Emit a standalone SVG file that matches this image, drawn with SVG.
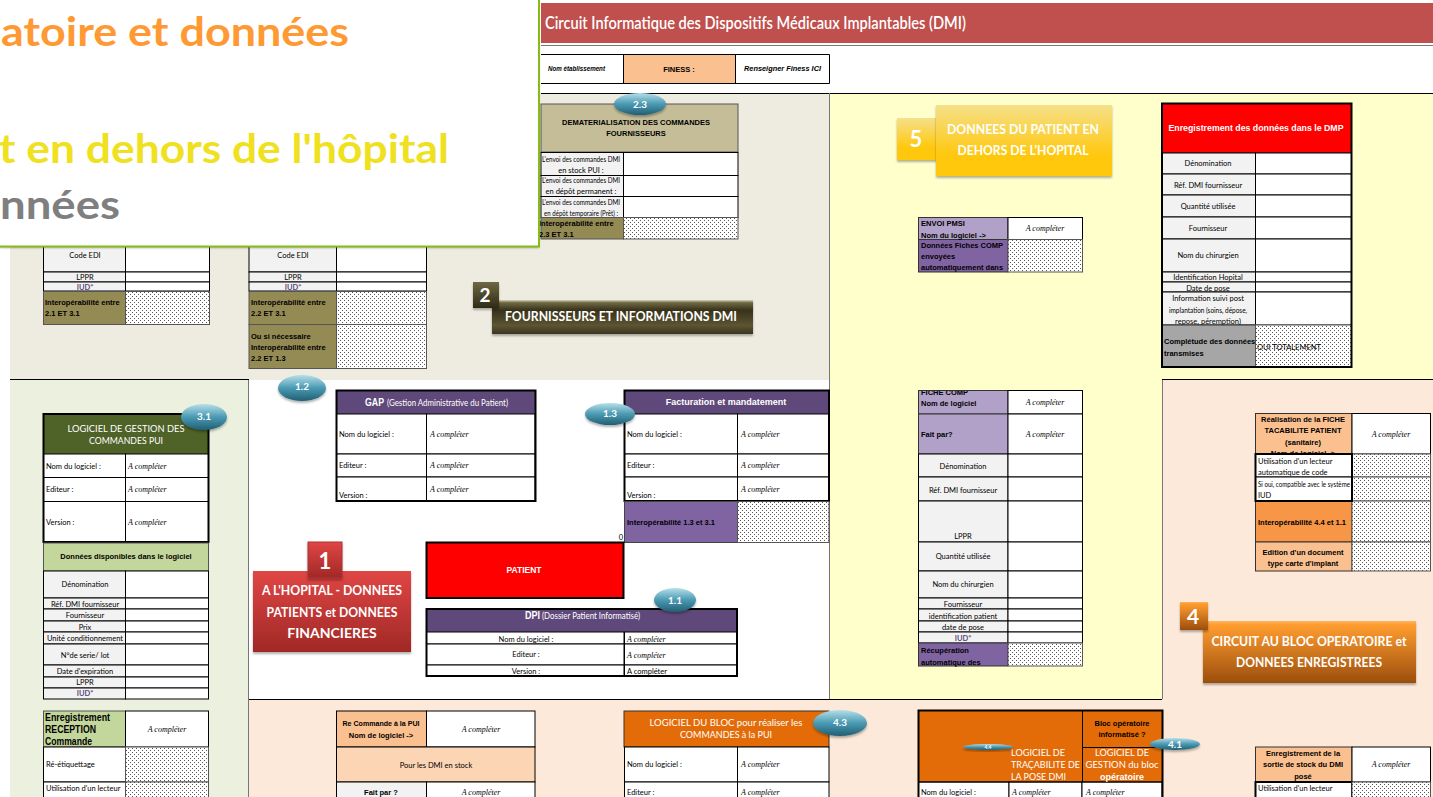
<svg xmlns="http://www.w3.org/2000/svg" width="1433" height="797" viewBox="0 0 1433 797">
<style>
text{font-family:Lato,"Liberation Sans",Arial,sans-serif;font-size:7.500px;fill:#000}
.m{text-anchor:middle}
.b{font-family:"Liberation Sans",Arial,sans-serif;font-weight:bold}
.i{font-style:italic;font-family:"Liberation Serif","Liberation Sans",serif;font-size:8px}
.w{fill:#fff}
.p{fill:#5F497A;font-weight:bold}
.h10{font-size:10px}
.ban{font-family:Lato,"Liberation Sans",sans-serif;font-weight:bold;fill:#fff;text-anchor:middle;font-size:14px}
.bad{font-family:Lato,"Liberation Sans",sans-serif;font-size:10px;font-weight:bold;fill:#fff;text-anchor:middle}
.big{font-family:Lato,"Liberation Sans",sans-serif;font-weight:bold;font-size:41px}
rect.c{stroke:#000;stroke-width:1;fill:#fff}
rect.l{stroke:#000;stroke-width:1;fill:#F2F2F2}
rect.d{stroke:#555;stroke-width:1;fill:url(#dots)}
rect.o{stroke:#000;stroke-width:2;fill:none}
ellipse{fill:url(#gb);filter:url(#sh)}
</style>
<defs>
<pattern id="dots" width="4" height="4" patternUnits="userSpaceOnUse"><rect width="4" height="4" fill="#fff"/><rect width="1" height="1" fill="#555"/><rect x="2" y="2" width="1" height="1" fill="#555"/></pattern>
<linearGradient id="gb" x1="0" y1="0" x2="0" y2="1"><stop offset="0" stop-color="#b7dfe9"/><stop offset=".5" stop-color="#4a9ab3"/><stop offset="1" stop-color="#215f74"/></linearGradient>
<linearGradient id="gr" x1="0" y1="0" x2="0" y2="1"><stop offset="0" stop-color="#e04644"/><stop offset="1" stop-color="#a02826"/></linearGradient>
<linearGradient id="go" x1="0" y1="0" x2="0" y2="1"><stop offset="0" stop-color="#ffb45e"/><stop offset=".06" stop-color="#ff9d30"/><stop offset="1" stop-color="#9c4e0c"/></linearGradient>
<linearGradient id="gy" x1="0" y1="0" x2="0" y2="1"><stop offset="0" stop-color="#f5e08a"/><stop offset=".7" stop-color="#ffc80f"/><stop offset="1" stop-color="#ffc80f"/></linearGradient>
<linearGradient id="gk" x1="0" y1="0" x2="0" y2="1"><stop offset="0" stop-color="#d8d4b8"/><stop offset=".08" stop-color="#6f6843"/><stop offset=".3" stop-color="#37321b"/><stop offset=".75" stop-color="#5c5433"/><stop offset="1" stop-color="#3a3520"/></linearGradient>
<linearGradient id="gk2" x1="0" y1="0" x2="0" y2="1"><stop offset="0" stop-color="#6f6843"/><stop offset="1" stop-color="#2e2a16"/></linearGradient>
<filter id="sh" x="-20%" y="-20%" width="140%" height="150%"><feDropShadow dx="0" dy="2" stdDeviation="1.2" flood-color="#000" flood-opacity=".3"/></filter>
<clipPath id="c1"><rect x="919" y="391" width="89" height="23"/></clipPath>
<clipPath id="c2"><rect x="1256" y="414" width="96" height="40"/></clipPath>
</defs>

<g id="panels">
<rect x="0" width="1433" height="797" fill="#fff"/>
<rect x="10" y="93" width="820" height="287" fill="#EEECE1"/>
<rect x="830" y="93" width="603" height="287" fill="#FFFFCC"/>
<rect x="830" y="380" width="332" height="319" fill="#FFFFCC"/>
<rect x="10" y="380" width="239" height="417" fill="#EBF1DE"/>
<rect x="249" y="699" width="913" height="98" fill="#FDE9D9"/>
<rect x="1162" y="380" width="271" height="417" fill="#FDE9D9"/>
<path d="M541 93.500H1433M10 379.500H249M1162 379.500H1433M249 699.500H1162" stroke="#000" fill="none"/>
<path d="M829.500 93V699M1162.500 380V699M248.500 380V797" stroke="#777" fill="none"/>
</g>

<g id="title">
<rect x="541" y="3" width="892" height="40" fill="#C0504D"/>
<path d="M541 45.500H1433" stroke="#777"/>
<text x="545" y="29" style="font-size:17px;font-weight:600;fill:#fff" textLength="421" lengthAdjust="spacingAndGlyphs">Circuit Informatique des Dispositifs Médicaux Implantables (DMI)</text>
<rect x="541" y="54" width="82" height="29" fill="#fff"/>
<rect x="623" y="54" width="112" height="29" fill="#FAC090"/>
<rect x="735" y="54" width="94" height="29" fill="#fff"/>
<path d="M541 54.500H829.500V83.500H541M623.500 54V83M735.500 54V83" stroke="#000" fill="none"/>
<text x="548" y="71" class="b" style="font-style:italic" textLength="57" lengthAdjust="spacingAndGlyphs">Nom établissement</text>
<text x="679" y="72" class="b m">FINESS :</text>
<text x="744" y="71" class="b" style="font-style:italic" textLength="77" lengthAdjust="spacingAndGlyphs">Renseigner Finess ICI</text>
</g>

<g id="table-2-1">
<rect class="l" x="43.500" y="246" width="82" height="26"/><rect class="c" x="125.500" y="246" width="84" height="26"/>
<rect class="l" x="43.500" y="272" width="82" height="10"/><rect class="c" x="125.500" y="272" width="84" height="10"/>
<rect class="l" x="43.500" y="282" width="82" height="9"/><rect class="c" x="125.500" y="282" width="84" height="9"/>
<rect x="43.500" y="291.500" width="82" height="33" fill="#948A54" stroke="#555"/><rect class="d" x="125.500" y="291.500" width="84" height="33"/>
<text x="85" y="258" class="m">Code EDI</text><text x="85" y="280" class="m">LPPR</text><text x="85" y="290" class="m p">IUD*</text>
<text x="45" y="305" class="b">Interopérabilité entre</text><text x="45" y="316" class="b">2.1 ET 3.1</text>
</g>

<g id="table-2-2">
<rect class="l" x="249" y="246" width="87.500" height="26"/><rect class="c" x="336.500" y="246" width="90" height="26"/>
<rect class="l" x="249" y="272" width="87.500" height="10"/><rect class="c" x="336.500" y="272" width="90" height="10"/>
<rect class="l" x="249" y="282" width="87.500" height="9"/><rect class="c" x="336.500" y="282" width="90" height="9"/>
<rect x="249" y="291.500" width="87.500" height="33" fill="#948A54" stroke="#555"/><rect class="d" x="336.500" y="291.500" width="90" height="33"/>
<rect x="249" y="324.500" width="87.500" height="44" fill="#948A54" stroke="#555"/><rect class="d" x="336.500" y="324.500" width="90" height="44"/>
<text x="293" y="258" class="m">Code EDI</text><text x="293" y="280" class="m">LPPR</text><text x="293" y="290" class="m p">IUD*</text>
<text x="251" y="305" class="b">Interopérabilité entre</text><text x="251" y="316" class="b">2.2 ET 3.1</text>
<text x="251" y="339" class="b">Ou si nécessaire</text><text x="251" y="350" class="b">Interopérabilité entre</text><text x="251" y="361" class="b">2.2 ET 1.3</text>
</g>

<g id="table-2-3">
<rect x="541" y="104" width="197" height="48" fill="#C4BD97" stroke="#555"/>
<rect class="l" x="541" y="152.500" width="82.500" height="23"/><rect class="c" x="623.500" y="152.500" width="114.500" height="23"/>
<rect class="l" x="541" y="175.500" width="82.500" height="21"/><rect class="c" x="623.500" y="175.500" width="114.500" height="21"/>
<rect class="l" x="541" y="196.500" width="82.500" height="21"/><rect class="c" x="623.500" y="196.500" width="114.500" height="21"/>
<rect x="541" y="217.500" width="82.500" height="21.500" fill="#948A54" stroke="#555"/><rect class="d" x="623.500" y="217.500" width="114.500" height="21.500"/>
<text x="636" y="125" class="b m">DEMATERIALISATION DES COMMANDES</text><text x="636" y="136" class="b m">FOURNISSEURS</text>
<text x="581" y="162" class="m" textLength="78" lengthAdjust="spacingAndGlyphs">L'envoi des commandes DMI</text><text x="581" y="173" class="m">en stock PUI :</text>
<text x="581" y="183" class="m" textLength="78" lengthAdjust="spacingAndGlyphs">L'envoi des commandes DMI</text><text x="581" y="194" class="m">en dépôt permanent :</text>
<text x="581" y="205" class="m" textLength="78" lengthAdjust="spacingAndGlyphs">L'envoi des commandes DMI</text><text x="581" y="216" class="m" textLength="74" lengthAdjust="spacingAndGlyphs">en dépôt temporaire (Prêt) :</text>
<text x="539" y="226" class="b">Interopérabilité entre</text><text x="539" y="237" class="b">2.3 ET 3.1</text>
</g>

<g id="section-2">
<rect x="492" y="300" width="261" height="34" fill="url(#gk)" filter="url(#sh)"/>
<rect x="473" y="282" width="26" height="26" fill="url(#gk2)" filter="url(#sh)"/>
<text x="485" y="302" class="ban" style="font-size:19px">2</text>
<text x="621" y="321" class="ban" textLength="232" lengthAdjust="spacingAndGlyphs">FOURNISSEURS ET INFORMATIONS DMI</text>
</g>

<g id="table-3-1">
<rect x="43.500" y="414" width="165" height="40" fill="#4F6228"/>
<rect class="c" x="43.500" y="454" width="82" height="23.500"/><rect class="c" x="125.500" y="454" width="83" height="23.500"/>
<rect class="c" x="43.500" y="477.500" width="82" height="24"/><rect class="c" x="125.500" y="477.500" width="83" height="24"/>
<rect class="c" x="43.500" y="501.500" width="82" height="41"/><rect class="c" x="125.500" y="501.500" width="83" height="41"/>
<rect class="o" x="43.500" y="414" width="165" height="128"/>
<rect x="43.500" y="543" width="165" height="28" fill="#C3D69B" stroke="#555"/>
<rect class="l" x="43.500" y="571" width="82" height="27"/><rect class="c" x="125.500" y="571" width="83" height="27"/>
<rect class="l" x="43.500" y="598" width="82" height="11"/><rect class="c" x="125.500" y="598" width="83" height="11"/>
<rect class="l" x="43.500" y="609" width="82" height="12"/><rect class="c" x="125.500" y="609" width="83" height="12"/>
<rect class="l" x="43.500" y="621" width="82" height="11"/><rect class="c" x="125.500" y="621" width="83" height="11"/>
<rect class="l" x="43.500" y="632" width="82" height="12"/><rect class="c" x="125.500" y="632" width="83" height="12"/>
<rect class="l" x="43.500" y="644" width="82" height="21"/><rect class="c" x="125.500" y="644" width="83" height="21"/>
<rect class="l" x="43.500" y="665" width="82" height="12"/><rect class="c" x="125.500" y="665" width="83" height="12"/>
<rect class="l" x="43.500" y="677" width="82" height="11"/><rect class="c" x="125.500" y="677" width="83" height="11"/>
<rect class="l" x="43.500" y="688" width="82" height="11"/><rect class="c" x="125.500" y="688" width="83" height="11"/>
<text x="126" y="432" class="m w h10" textLength="117" lengthAdjust="spacingAndGlyphs">LOGICIEL DE GESTION DES</text><text x="126" y="444" class="m w h10" textLength="74" lengthAdjust="spacingAndGlyphs">COMMANDES PUI</text>
<text x="46" y="469">Nom du logiciel :</text><text x="128" y="469" class="i">A compléter</text>
<text x="46" y="492">Editeur :</text><text x="128" y="492" class="i">A compléter</text>
<text x="46" y="525">Version :</text><text x="128" y="525" class="i">A compléter</text>
<text x="126" y="559" class="b m">Données disponibles dans le logiciel</text>
<text x="85" y="587" class="m">Dénomination</text><text x="85" y="607" class="m">Réf. DMI fournisseur</text><text x="85" y="618" class="m">Fournisseur</text><text x="85" y="630" class="m">Prix</text><text x="85" y="641" class="m">Unité conditionnement</text><text x="85" y="658" class="m">N°de serie/ lot</text><text x="85" y="674" class="m">Date d'expiration</text><text x="85" y="685" class="m">LPPR</text><text x="85" y="696" class="m p">IUD*</text>
</g>

<g id="table-reception">
<rect x="43.500" y="711" width="82" height="36" fill="#C3D69B" stroke="#555"/><rect class="c" x="125.500" y="711" width="83" height="36"/>
<rect class="c" x="43.500" y="747" width="82" height="35"/><rect class="d" x="125.500" y="747" width="83" height="35"/>
<rect class="c" x="43.500" y="782" width="82" height="20"/><rect class="d" x="125.500" y="782" width="83" height="20"/>
<text x="45" y="721" class="b" style="font-size:10px" textLength="65" lengthAdjust="spacingAndGlyphs">Enregistrement</text><text x="45" y="733" class="b" style="font-size:10px" textLength="51" lengthAdjust="spacingAndGlyphs">RECEPTION</text><text x="45" y="745" class="b" style="font-size:10px" textLength="47" lengthAdjust="spacingAndGlyphs">Commande</text>
<text x="167" y="732" class="i m">A compléter</text><text x="46" y="767">Ré-étiquettage</text><text x="46" y="791">Utilisation d'un lecteur</text>
</g>

<g id="section-1">
<rect x="253" y="571" width="158" height="81" fill="url(#gr)" filter="url(#sh)"/>
<rect x="308" y="542" width="34" height="36" fill="url(#gr)" stroke="#a33" filter="url(#sh)"/>
<text x="325" y="569" class="ban" style="font-size:22px">1</text>
<text x="332" y="595" class="ban" textLength="140" lengthAdjust="spacingAndGlyphs">A L'HOPITAL - DONNEES</text>
<text x="332" y="617" class="ban" textLength="131" lengthAdjust="spacingAndGlyphs">PATIENTS et DONNEES</text>
<text x="332" y="638" class="ban">FINANCIERES</text>
</g>

<g id="table-gap">
<rect x="336" y="390" width="199" height="24" fill="#5F497A"/>
<rect class="c" x="336.500" y="414" width="90" height="40"/><rect class="c" x="426.500" y="414" width="108.500" height="40"/>
<rect class="c" x="336.500" y="454" width="90" height="23"/><rect class="c" x="426.500" y="454" width="108.500" height="23"/>
<rect class="c" x="336.500" y="477" width="90" height="24"/><rect class="c" x="426.500" y="477" width="108.500" height="24"/>
<rect class="o" x="336.500" y="390.500" width="199" height="110.500"/>
<text x="365" y="406" class="w b" style="font-size:10.500px" textLength="19" lengthAdjust="spacingAndGlyphs">GAP</text>
<text x="387" y="406" class="w" style="font-size:9px" textLength="121" lengthAdjust="spacingAndGlyphs">(Gestion Administrative du Patient)</text>
<text x="339" y="437">Nom du logiciel :</text><text x="430" y="437" class="i">A compléter</text>
<text x="339" y="468">Editeur :</text><text x="430" y="468" class="i">A compléter</text>
<text x="339" y="498">Version :</text><text x="430" y="492" class="i">A compléter</text>
</g>

<g id="table-facturation">
<rect x="624" y="390" width="205" height="24" fill="#5F497A"/>
<rect class="c" x="624.500" y="414" width="113" height="40"/><rect class="c" x="737.500" y="414" width="91.500" height="40"/>
<rect class="c" x="624.500" y="454" width="113" height="23"/><rect class="c" x="737.500" y="454" width="91.500" height="23"/>
<rect class="c" x="624.500" y="477" width="113" height="24"/><rect class="c" x="737.500" y="477" width="91.500" height="24"/>
<rect class="o" x="624.500" y="390.500" width="204.500" height="110.500"/>
<rect x="624.500" y="501.500" width="113" height="41" fill="#8064A2" stroke="#444"/><rect class="d" x="737.500" y="501.500" width="91.500" height="41"/>
<text x="726" y="405" class="m w b" style="font-size:9px">Facturation et mandatement</text>
<text x="627" y="437">Nom du logiciel :</text><text x="741" y="437" class="i">A compléter</text>
<text x="627" y="468">Editeur :</text><text x="741" y="468" class="i">A compléter</text>
<text x="627" y="498">Version :</text><text x="741" y="492" class="i">A compléter</text>
<text x="627" y="525" class="b">Interopérabilité 1.3 et 3.1</text>
<text x="623" y="540" style="text-anchor:end">0</text>
</g>

<g id="patient">
<rect class="o" x="426.500" y="542.500" width="197" height="55.500" style="fill:#FF0000"/>
<text x="524" y="573" class="m w b" style="font-size:8.500px">PATIENT</text>
</g>

<g id="table-dpi">
<rect x="426" y="609" width="311" height="23" fill="#5F497A"/>
<rect class="c" x="426.500" y="632" width="197.500" height="12"/><rect class="c" x="624.500" y="632" width="112.500" height="12"/>
<rect class="c" x="426.500" y="644" width="197.500" height="21"/><rect class="c" x="624.500" y="644" width="112.500" height="21"/>
<rect class="c" x="426.500" y="665" width="197.500" height="11"/><rect class="c" x="624.500" y="665" width="112.500" height="11"/>
<rect class="o" x="426.500" y="609" width="310.500" height="67"/>
<text x="525" y="619" class="w b" style="font-size:10.500px" textLength="15" lengthAdjust="spacingAndGlyphs">DPI</text>
<text x="542" y="619" class="w" style="font-size:9px" textLength="98" lengthAdjust="spacingAndGlyphs">(Dossier Patient Informatisé)</text>
<text x="526" y="642" class="m">Nom du logiciel :</text><text x="627" y="642" class="i">A compléter</text>
<text x="526" y="657" class="m">Editeur :</text><text x="627" y="658" class="i">A compléter</text>
<text x="526" y="674" class="m">Version :</text><text x="627" y="674">A compléter</text>
</g>

<g id="table-recommande">
<rect x="336.500" y="711" width="90" height="36" fill="#FAC090" stroke="#000"/><rect class="c" x="426.500" y="711" width="108.500" height="36"/>
<rect x="336.500" y="747" width="198.500" height="35" fill="#FCD5B4" stroke="#000"/>
<rect class="l" x="336.500" y="782" width="90" height="20"/><rect class="c" x="426.500" y="782" width="108.500" height="20"/>
<text x="381" y="726" class="b m" textLength="77" lengthAdjust="spacingAndGlyphs">Re Commande à la PUI</text><text x="381" y="738" class="b m">Nom de logiciel -&gt;</text>
<text x="481" y="732" class="i m">A compléter</text>
<text x="436" y="768" class="m">Pour les DMI en stock</text>
<text x="381" y="795" class="b m">Fait par ?</text><text x="481" y="795" class="i m">A compléter</text>
</g>

<g id="table-4-3">
<rect x="624" y="711" width="205" height="36" fill="#E36C09" stroke="#333"/>
<rect class="c" x="624.500" y="747" width="113" height="35"/><rect class="c" x="737.500" y="747" width="91.500" height="35"/>
<rect class="c" x="624.500" y="782" width="113" height="20"/><rect class="c" x="737.500" y="782" width="91.500" height="20"/>
<text x="726" y="726" class="m w h10" textLength="153" lengthAdjust="spacingAndGlyphs">LOGICIEL DU BLOC pour réaliser les</text><text x="726" y="738" class="m w h10" textLength="92" lengthAdjust="spacingAndGlyphs">COMMANDES à la PUI</text>
<text x="627" y="767">Nom du logiciel :</text><text x="741" y="767" class="i">A compléter</text>
<text x="627" y="795">Editeur :</text><text x="741" y="795" class="i">A compléter</text>
</g>

<g id="table-4-tracabilite">
<rect x="918" y="710" width="164" height="37" fill="#E36C09"/>
<rect x="1082" y="710" width="80" height="37" fill="#E36C09"/>
<rect x="918" y="747" width="244" height="35" fill="#E36C09"/>
<rect class="c" x="918.500" y="782" width="90.500" height="20"/><rect class="c" x="1009" y="782" width="73" height="20"/><rect class="c" x="1082" y="782" width="80" height="20"/>
<path d="M1082 747.500H1162M1082.500 710V782M918 782H1162" stroke="#000" fill="none"/>
<rect class="o" x="918.500" y="710.500" width="244" height="90"/>
<text x="1122" y="726" class="b m">Bloc opératoire</text><text x="1122" y="737" class="b m">informatisé ?</text>
<text x="1011" y="756" class="w h10" textLength="54" lengthAdjust="spacingAndGlyphs">LOGICIEL DE</text><text x="1011" y="768" class="w h10" textLength="69" lengthAdjust="spacingAndGlyphs">TRAÇABILITE DE</text><text x="1011" y="780" class="w h10" textLength="55" lengthAdjust="spacingAndGlyphs">LA POSE DMI</text>
<text x="1122" y="756" class="m w h10" textLength="54" lengthAdjust="spacingAndGlyphs">LOGICIEL DE</text><text x="1122" y="768" class="m w h10" textLength="73" lengthAdjust="spacingAndGlyphs">GESTION du bloc</text><text x="1122" y="780" class="m w b" style="font-size:9px">opératoire</text>
<text x="921" y="795">Nom du logiciel :</text><text x="1012" y="795" class="i">A compléter</text><text x="1086" y="795" class="i">A compléter</text>
</g>

<g id="table-pmsi">
<rect x="918.500" y="217.500" width="89.500" height="22" fill="#B1A0C7" stroke="#333"/><rect class="c" x="1008" y="217.500" width="74.500" height="22"/>
<rect x="918.500" y="239.500" width="89.500" height="32.500" fill="#8064A2" stroke="#333"/><rect class="d" x="1008" y="239.500" width="74.500" height="32.500"/>
<text x="921" y="226" class="b">ENVOI PMSI</text><text x="921" y="238" class="b">Nom du logiciel -&gt;</text>
<text x="1045" y="231" class="i m">A compléter</text>
<text x="921" y="248" class="b">Données Fiches COMP</text><text x="921" y="259" class="b">envoyées</text><text x="921" y="270" class="b">automatiquement dans</text>
</g>

<g id="section-5">
<rect x="897" y="118" width="40" height="42" fill="url(#gy)" filter="url(#sh)"/>
<rect x="936" y="105" width="176" height="71" fill="url(#gy)" filter="url(#sh)"/>
<text x="916" y="147" class="ban" style="font-size:22px">5</text>
<text x="1023" y="134" class="ban" textLength="152" lengthAdjust="spacingAndGlyphs">DONNEES DU PATIENT EN</text>
<text x="1023" y="155" class="ban" textLength="131" lengthAdjust="spacingAndGlyphs">DEHORS DE L'HOPITAL</text>
</g>

<g id="table-dmp">
<rect x="1162" y="103.500" width="189.500" height="49.500" fill="#FF0000" stroke="#333"/>
<rect class="l" x="1162" y="153" width="93.500" height="21"/><rect class="c" x="1255.500" y="153" width="96" height="21"/>
<rect class="l" x="1162" y="174" width="93.500" height="21"/><rect class="c" x="1255.500" y="174" width="96" height="21"/>
<rect class="l" x="1162" y="195" width="93.500" height="22"/><rect class="c" x="1255.500" y="195" width="96" height="22"/>
<rect class="l" x="1162" y="217" width="93.500" height="22"/><rect class="c" x="1255.500" y="217" width="96" height="22"/>
<rect class="l" x="1162" y="239" width="93.500" height="33"/><rect class="c" x="1255.500" y="239" width="96" height="33"/>
<rect class="l" x="1162" y="272" width="93.500" height="10"/><rect class="c" x="1255.500" y="272" width="96" height="10"/>
<rect class="l" x="1162" y="282" width="93.500" height="10"/><rect class="c" x="1255.500" y="282" width="96" height="10"/>
<rect class="l" x="1162" y="292" width="93.500" height="33"/><rect class="c" x="1255.500" y="292" width="96" height="33"/>
<rect x="1162" y="325" width="93.500" height="42" fill="#A6A6A6" stroke="#333"/><rect class="d" x="1255.500" y="325" width="96" height="42"/>
<rect class="o" x="1162" y="103.500" width="189.500" height="263.500"/>
<text x="1256" y="131" class="m w b" style="font-size:9px" textLength="175" lengthAdjust="spacingAndGlyphs">Enregistrement des données dans le DMP</text>
<text x="1208" y="166" class="m">Dénomination</text><text x="1208" y="188" class="m">Réf. DMI fournisseur</text><text x="1208" y="209" class="m">Quantité utilisée</text><text x="1208" y="231" class="m">Fournisseur</text><text x="1208" y="258" class="m">Nom du chirurgien</text><text x="1208" y="280" class="m">Identification Hopital</text><text x="1208" y="291" class="m">Date de pose</text>
<text x="1208" y="301" class="m">Information suivi post</text><text x="1208" y="313" class="m" textLength="78" lengthAdjust="spacingAndGlyphs">implantation (soins, dépose,</text><text x="1208" y="324" class="m">repose, péremption)</text>
<text x="1164" y="344" class="b">Complétude des données</text><text x="1164" y="356" class="b">transmises</text>
<text x="1257" y="350">OUI TOTALEMENT</text>
</g>

<g id="table-fiche-comp">
<rect x="918.500" y="390.500" width="89.500" height="23.500" fill="#B1A0C7" stroke="#333"/><rect class="c" x="1008" y="390.500" width="74.500" height="23.500"/>
<rect x="918.500" y="414" width="89.500" height="40" fill="#B1A0C7" stroke="#333"/><rect class="c" x="1008" y="414" width="74.500" height="40"/>
<rect class="l" x="918.500" y="454" width="89.500" height="23"/><rect class="c" x="1008" y="454" width="74.500" height="23"/>
<rect class="l" x="918.500" y="477" width="89.500" height="24"/><rect class="c" x="1008" y="477" width="74.500" height="24"/>
<rect class="l" x="918.500" y="501" width="89.500" height="41"/><rect class="c" x="1008" y="501" width="74.500" height="41"/>
<rect class="l" x="918.500" y="542" width="89.500" height="29"/><rect class="c" x="1008" y="542" width="74.500" height="29"/>
<rect class="l" x="918.500" y="571" width="89.500" height="27"/><rect class="c" x="1008" y="571" width="74.500" height="27"/>
<rect class="l" x="918.500" y="598" width="89.500" height="11"/><rect class="c" x="1008" y="598" width="74.500" height="11"/>
<rect class="l" x="918.500" y="609" width="89.500" height="12"/><rect class="c" x="1008" y="609" width="74.500" height="12"/>
<rect class="l" x="918.500" y="621" width="89.500" height="11"/><rect class="c" x="1008" y="621" width="74.500" height="11"/>
<rect class="l" x="918.500" y="632" width="89.500" height="11"/><rect class="c" x="1008" y="632" width="74.500" height="11"/>
<rect x="918.500" y="643" width="89.500" height="23" fill="#8064A2" stroke="#333"/><rect class="d" x="1008" y="643" width="74.500" height="23"/>
<g clip-path="url(#c1)"><text x="921" y="395" class="b">FICHE COMP</text><text x="921" y="406" class="b">Nom de logiciel</text></g>
<text x="1045" y="405" class="i m">A compléter</text>
<text x="921" y="437" class="b">Fait par?</text><text x="1045" y="437" class="i m">A compléter</text>
<text x="963" y="469" class="m">Dénomination</text><text x="963" y="493" class="m">Réf. DMI fournisseur</text><text x="963" y="539" class="m">LPPR</text><text x="963" y="559" class="m">Quantité utilisée</text><text x="963" y="587" class="m">Nom du chirurgien</text><text x="963" y="607" class="m">Fournisseur</text><text x="963" y="619" class="m">identification patient</text><text x="963" y="630" class="m">date de pose</text><text x="963" y="641" class="m p">IUD*</text>
<text x="921" y="653" class="b">Récupération</text><text x="921" y="665" class="b">automatique des</text>
</g>

<g id="section-4">
<rect x="1203" y="621" width="213" height="62" fill="url(#go)" filter="url(#sh)"/>
<rect x="1180" y="602" width="28" height="28" fill="url(#go)" filter="url(#sh)"/>
<text x="1193" y="624" class="ban" style="font-size:21px">4</text>
<text x="1309" y="646" class="ban" textLength="195" lengthAdjust="spacingAndGlyphs">CIRCUIT AU BLOC OPERATOIRE et</text>
<text x="1309" y="667" class="ban" textLength="146" lengthAdjust="spacingAndGlyphs">DONNEES ENREGISTREES</text>
</g>

<g id="table-fiche-tracabilite">
<rect x="1255.500" y="413.500" width="96.500" height="40.500" fill="#FAC090" stroke="#333"/><rect class="c" x="1352" y="413.500" width="78.500" height="40.500"/>
<rect class="c" x="1255.500" y="454" width="96.500" height="23"/><rect class="d" x="1352" y="454" width="78.500" height="23"/>
<rect class="c" x="1255.500" y="477" width="96.500" height="24"/><rect class="d" x="1352" y="477" width="78.500" height="24"/>
<rect x="1255.500" y="501" width="96.500" height="41" fill="#F79646" stroke="#333"/><rect class="d" x="1352" y="501" width="78.500" height="41"/>
<rect x="1255.500" y="542" width="96.500" height="29" fill="#FAC090" stroke="#333"/><rect class="d" x="1352" y="542" width="78.500" height="29"/>
<rect class="o" x="1255.500" y="454" width="96.500" height="47"/>
<g clip-path="url(#c2)"><text x="1303" y="422" class="b m">Réalisation de la FICHE</text><text x="1303" y="433" class="b m">TACABILITE PATIENT</text><text x="1303" y="445" class="b m">(sanitaire)</text><text x="1303" y="456" class="b m">Nom de logiciel -&gt;</text></g>
<text x="1391" y="437" class="i m">A compléter</text>
<text x="1258" y="464">Utilisation d'un lecteur</text><text x="1258" y="475">automatique de code</text>
<text x="1258" y="487" textLength="92" lengthAdjust="spacingAndGlyphs">Si oui, compatible avec le système</text><text x="1258" y="498">IUD</text>
<text x="1258" y="525" class="b">Interopérabilité 4.4 et 1.1</text>
<text x="1303" y="555" class="b m">Edition d'un document</text><text x="1303" y="566" class="b m">type carte d'implant</text>
</g>

<g id="table-sortie-stock">
<rect x="1255.500" y="747" width="96.500" height="35" fill="#FAC090" stroke="#333"/><rect class="c" x="1352" y="747" width="78.500" height="35"/>
<rect class="c" x="1255.500" y="782" width="96.500" height="20" style="stroke-width:2"/><rect class="d" x="1352" y="782" width="78.500" height="20"/>
<text x="1303" y="756" class="b m">Enregistrement de la</text><text x="1303" y="767" class="b m">sortie de stock du DMI</text><text x="1303" y="779" class="b m">posé</text>
<text x="1391" y="767" class="i m">A compléter</text>
<text x="1258" y="791">Utilisation d'un lecteur</text>
</g>

<g id="badges">
<g id="badge-2-3"><ellipse cx="640" cy="104" rx="26" ry="11"/><text x="640" y="108" class="bad">2.3</text></g>
<g id="badge-1-2"><ellipse cx="302" cy="388" rx="24" ry="13"/><text x="302" y="390" class="bad">1.2</text></g>
<g id="badge-3-1"><ellipse cx="204" cy="417" rx="23" ry="13"/><text x="204" y="420" class="bad">3.1</text></g>
<g id="badge-1-3"><ellipse cx="610" cy="414" rx="25" ry="11"/><text x="610" y="417" class="bad">1.3</text></g>
<g id="badge-1-1"><ellipse cx="675" cy="600" rx="21" ry="12"/><text x="675" y="604" class="bad">1.1</text></g>
<g id="badge-4-3"><ellipse cx="840" cy="723" rx="27" ry="13"/><text x="840" y="726" class="bad">4.3</text></g>
<g id="badge-4-4"><ellipse cx="988" cy="747" rx="25" ry="3"/><text x="988" y="749" class="bad" style="font-size:5px">4.4</text></g>
<g id="badge-4-1"><ellipse cx="1175" cy="744" rx="25" ry="6"/><text x="1175" y="748" class="bad">4.1</text></g>
</g>

<g id="overlay">
<rect x="0" y="0" width="539" height="246" fill="#fff" filter="url(#sh)"/>
<path d="M539 0V246.500H0" fill="none" stroke="#86BC14" stroke-width="2"/>
<text x="1" y="46" class="big" style="fill:#FF9933" textLength="348" lengthAdjust="spacingAndGlyphs">atoire et données</text>
<text x="-1" y="163" class="big" style="fill:#EFE11F" textLength="450" lengthAdjust="spacingAndGlyphs">t en dehors de l'hôpital</text>
<text x="0" y="219" class="big" style="fill:#7F7F7F" textLength="120" lengthAdjust="spacingAndGlyphs">nnées</text>
</g>
</svg>
